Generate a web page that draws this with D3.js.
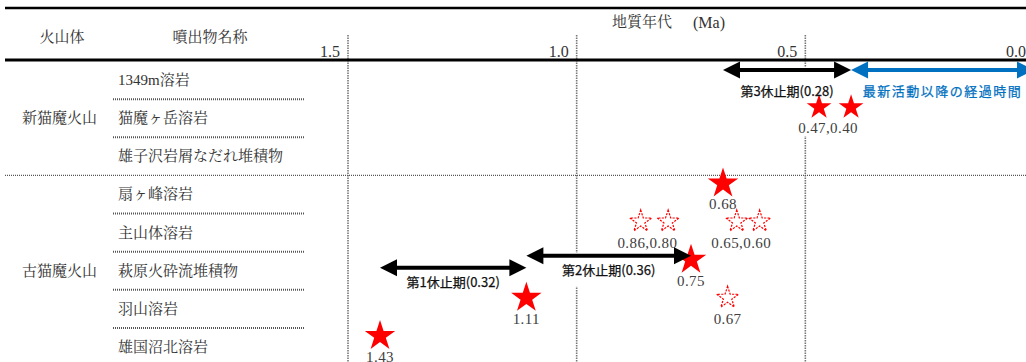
<!DOCTYPE html>
<html>
<head>
<meta charset="utf-8">
<script src="https://cdn.jsdelivr.net/npm/d3@7"></script>
<style>
  body { margin: 0; background: #fff; }
  svg { display: block; }
</style>
</head>
<body>
<div id="chart"></div>
<script>
"use strict"

// volcano groups and eruptive units (rows)
const groups = ["新猫魔火山", "古猫魔火山"]
const units = ["1349m溶岩", "猫魔ヶ岳溶岩", "雄子沢岩屑なだれ堆積物",
  "扇ヶ峰溶岩", "主山体溶岩", "萩原火砕流堆積物", "羽山溶岩", "雄国沼北溶岩"]
const unitGroup = [0, 0, 0, 1, 1, 1, 1, 1]

// age axis (Ma)
const ticks = [1.5, 1.0, 0.5, 0.0]

// dated samples: age, row, solid (filled) or not
const starAges  = [0.47, 0.40, 0.68, 0.86, 0.80, 0.65, 0.60, 0.75, 0.67, 1.11, 1.43]
const starUnits = [1, 1, 3, 4, 4, 4, 4, 5, 6, 6, 7]
const starSolid = [true, true, true, false, false, false, false, true, false, true, true]

// labels under stars
const ageLabels   = ["0.47,0.40", "0.68", "0.86,0.80", "0.65,0.60", "0.75", "0.67", "1.11", "1.43"]
const ageLabelAge = [[0.47, 0.40], [0.68], [0.86, 0.80], [0.65, 0.60], [0.75], [0.67], [1.11], [1.43]]
const ageLabelUnit = [1, 3, 4, 4, 5, 6, 6, 7]

// dormant periods
const periodNames = ["第1休止期(0.32)", "第2休止期(0.36)", "第3休止期(0.28)", "最新活動以降の経過時間"]
const periodFrom = [1.43, 1.11, 0.68, 0.40]
const periodTo   = [1.11, 0.75, 0.40, 0.0]

const W = 1026, H = 362
const serif = "'Liberation Serif', 'Noto Serif CJK JP', 'Noto Sans CJK JP', serif"
const sans = "'Noto Sans CJK JP', 'Noto Sans', sans-serif"

const svg = d3.select("#chart").append("svg")
  .attr("width", W)
  .attr("height", H)

const x = d3.scaleLinear().domain([1.5, 0]).range([348, 1034])
const y = d3.scaleBand().domain(d3.range(units.length)).range([61, 366])
const rowMid = (i) => y(i) + y.bandwidth() / 2

const gridLayer = svg.append("g")
const boxLayer = svg.append("g")
const markLayer = svg.append("g")

// header lines
svg.append("line")
  .attr("x1", 5).attr("x2", W).attr("y1", 8).attr("y2", 8)
  .attr("stroke", "#000").attr("stroke-width", 2.5)

// vertical grid lines
gridLayer.selectAll("line.grid")
  .data(ticks)
  .enter()
    .append("line")
    .attr("class", "grid")
    .attr("x1", (d) => x(d)).attr("x2", (d) => x(d))
    .attr("y1", 35).attr("y2", H)
    .attr("stroke", "#777")
    .attr("stroke-width", 1.6)
    .attr("stroke-dasharray", "1.5,1")

// tick labels
svg.selectAll("text.tick")
  .data(ticks)
  .enter()
    .append("text")
    .attr("class", "tick")
    .attr("x", (d) => x(d) - 8)
    .attr("y", 57)
    .attr("text-anchor", "end")
    .attr("font-family", serif)
    .attr("font-size", "16px")
    .attr("fill", "#333")
    .text((d) => d.toFixed(1))

svg.append("line")
  .attr("x1", 5).attr("x2", W).attr("y1", 60).attr("y2", 60)
  .attr("stroke", "#000").attr("stroke-width", 3)

// header texts
svg.append("text")
  .attr("x", 62).attr("y", 37)
  .attr("text-anchor", "middle")
  .attr("dominant-baseline", "central")
  .attr("font-family", serif).attr("font-size", "15px").attr("fill", "#333")
  .text("火山体")

svg.append("text")
  .attr("x", 210).attr("y", 37)
  .attr("text-anchor", "middle")
  .attr("dominant-baseline", "central")
  .attr("font-family", serif).attr("font-size", "15px").attr("fill", "#333")
  .text("噴出物名称")

let title = svg.append("text")
  .attr("y", 22)
  .attr("dominant-baseline", "central")
  .attr("font-family", serif).attr("font-size", "15px").attr("fill", "#333")
title.append("tspan").attr("x", 612).text("地質年代")
title.append("tspan").attr("x", 693).attr("font-size", "16px").text("(Ma)")

// row separators
units.forEach((u, i) => {
  if (i == 0) return
  let newGroup = unitGroup[i] != unitGroup[i - 1]
  gridLayer.append("line")
    .attr("x1", newGroup ? 5 : 113)
    .attr("x2", newGroup ? W : 305)
    .attr("y1", y(i)).attr("y2", y(i))
    .attr("stroke", "#555")
    .attr("stroke-width", newGroup ? 1.4 : 2)
    .attr("stroke-dasharray", "1,1")
})

// unit names
svg.selectAll("text.unit")
  .data(units)
  .enter()
    .append("text")
    .attr("class", "unit")
    .attr("x", 118)
    .attr("y", (d, i) => rowMid(i))
    .attr("dominant-baseline", "central")
    .attr("font-family", serif).attr("font-size", "15px").attr("fill", "#333")
    .text((d) => d)

// group names
svg.selectAll("text.group")
  .data(groups)
  .enter()
    .append("text")
    .attr("class", "group")
    .attr("x", 22)
    .attr("y", (d, gi) => {
      let rows = d3.range(units.length).filter((i) => unitGroup[i] == gi)
      return (y(rows[0]) + y(rows[rows.length - 1]) + y.bandwidth()) / 2
    })
    .attr("dominant-baseline", "central")
    .attr("font-family", serif).attr("font-size", "15px").attr("fill", "#333")
    .text((d) => d)

// white box behind a text so grid lines break there
function backBox(textNode, top, bottom) {
  let bb = textNode.getBBox()
  boxLayer.append("rect")
    .attr("x", bb.x - 2)
    .attr("width", bb.width + 4)
    .attr("y", top)
    .attr("height", bottom - top)
    .attr("fill", "#fff")
}

// stars
const stars = starAges.map((age, i) => ({ age, unit: starUnits[i], solid: starSolid[i] }))

markLayer.selectAll("path.star")
  .data(stars)
  .enter()
    .append("path")
    .attr("class", "star")
    .attr("transform", (d) => `translate(${x(d.age)}, ${rowMid(d.unit) - 11})`)
    .attr("d", (d) => {
      let r = !d.solid ? 11.5 : (unitGroup[d.unit] == 0 ? 13 : 16)
      return d3.symbol(d3.symbolStar, r * r / 0.8908)()
    })
    .attr("fill", (d) => d.solid ? "#ff0000" : "#fff")
    .attr("stroke", (d) => d.solid ? "none" : "#ff0000")
    .attr("stroke-width", 1.2)
    .attr("stroke-dasharray", (d) => d.solid ? null : "2.2,1.2")

// star labels
ageLabels.forEach((label, i) => {
  let ages = ageLabelAge[i]
  let cx = x(d3.mean(ages)) - (ages.length > 1 ? 7 : 0)
  let cy = rowMid(ageLabelUnit[i]) + 10
  let t = markLayer.append("text")
    .attr("x", cx)
    .attr("y", cy)
    .attr("text-anchor", "middle")
    .attr("dominant-baseline", "central")
    .attr("font-family", serif).attr("font-size", "15px").attr("fill", "#404040")
    .attr("letter-spacing", "0.4px")
    .text(label)
  backBox(t.node(), cy - 22, cy + 8)
})

// dormant period arrows
const arrowRow = [5, 5, 0, 0]
const arrowShift = [-3, -15, -10, -10]
const labelShift = [14, 14, 20, 20]

function drawArrow(x1, x2, ay, color) {
  const len = 17, half = 8.5
  markLayer.append("line")
    .attr("x1", x1 + len - 1).attr("x2", x2 - len + 1)
    .attr("y1", ay).attr("y2", ay)
    .attr("stroke", color).attr("stroke-width", 4)
  markLayer.append("path")
    .attr("d", `M${x1},${ay}L${x1 + len},${ay - half}L${x1 + len},${ay + half}Z`)
    .attr("fill", color)
  markLayer.append("path")
    .attr("d", `M${x2},${ay}L${x2 - len},${ay - half}L${x2 - len},${ay + half}Z`)
    .attr("fill", color)
}

periodNames.forEach((name, i) => {
  let color = i == periodNames.length - 1 ? "#0070C0" : "#000"
  let x1 = x(periodFrom[i]), x2 = x(periodTo[i])
  let ay = rowMid(arrowRow[i]) + arrowShift[i]
  let ly = ay + labelShift[i]
  drawArrow(x1, x2, ay, color)
  let t = markLayer.append("text")
    .attr("x", (x1 + x2) / 2)
    .attr("y", ly)
    .attr("text-anchor", "middle")
    .attr("dominant-baseline", "central")
    .attr("font-family", sans).attr("font-size", "13px")
    .attr("fill", color == "#000" ? "#111" : color)
    .attr("stroke", color == "#000" ? "#111" : color)
    .attr("stroke-width", 0.25)
    .attr("letter-spacing", i == periodNames.length - 1 ? "1.5px" : "0px")
    .text(name)
  backBox(t.node(), ay - 3, ly + 17)
})
</script>
</body>
</html>
